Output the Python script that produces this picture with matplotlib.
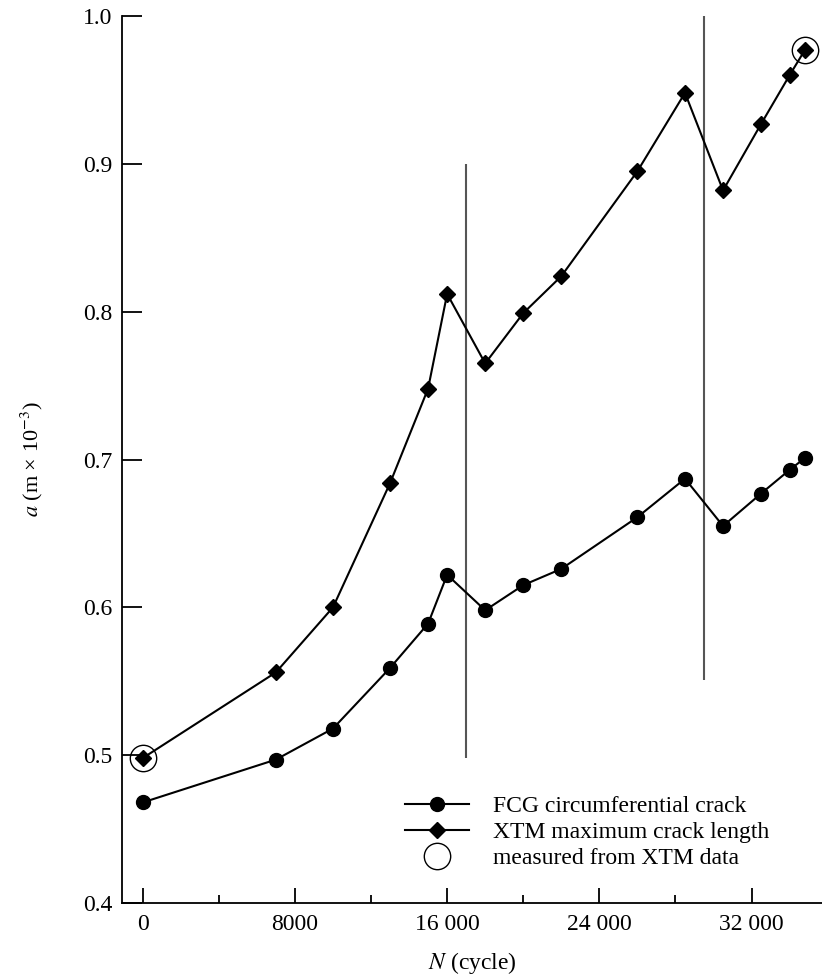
import matplotlib
matplotlib.use("Agg")
import matplotlib.pyplot as plt
from matplotlib.ticker import FixedLocator

plt.rcParams["font.family"] = ["Liberation Serif", "DejaVu Serif"]
plt.rcParams["mathtext.fontset"] = "stix"

# crack length a (m x 10^-3) against number of cycles N
cycles = [0, 7000, 10000, 13000, 15000, 16000, 18000, 20000, 22000,
          26000, 28500, 30500, 32500, 34000, 34800]
fcg_crack = [0.468, 0.497, 0.518, 0.559, 0.589, 0.622, 0.598, 0.615, 0.626,
             0.661, 0.687, 0.655, 0.677, 0.693, 0.701]
xtm_crack = [0.498, 0.556, 0.600, 0.684, 0.748, 0.812, 0.765, 0.799, 0.824,
             0.895, 0.948, 0.882, 0.927, 0.960, 0.977]

# points taken directly from the XTM data
measured_n = [0, 34800]
measured_a = [0.498, 0.977]

# vertical markers: (N, a_bottom, a_top)
markers_n = [17000, 29500]
markers_lo = [0.498, 0.551]
markers_hi = [0.900, 1.000]

xticks = [0, 8000, 16000, 24000, 32000]
xtick_labels = ["0", "8000", "16 000", "24 000", "32 000"]
xminor = [4000, 12000, 20000, 28000]
yticks = [0.4, 0.5, 0.6, 0.7, 0.8, 0.9, 1.0]

fig = plt.figure(figsize=(8.22, 9.76), dpi=100)
ax = fig.add_axes([0.1484, 0.0748, 0.8516, 0.9088])

for n, lo, hi in zip(markers_n, markers_lo, markers_hi):
    ax.vlines(n, lo, hi, color="#555555", lw=1.5, zorder=1)

ax.plot(cycles, fcg_crack, "-o", color="black", lw=1.5, ms=10,
        label="FCG circumferential crack", zorder=3)
ax.plot(cycles, xtm_crack, "-D", color="black", lw=1.5, ms=8,
        label="XTM maximum crack length", zorder=3)
ax.plot(measured_n, measured_a, "o", ls="none", mfc="none", mec="black",
        mew=1.0, ms=19, label="measured from XTM data", zorder=4)

ax.set_xlim(-1088, 35700)
ax.set_ylim(0.4, 1.0)

for side in ("top", "right"):
    ax.spines[side].set_visible(False)
for side in ("left", "bottom"):
    ax.spines[side].set_linewidth(1.3)

ax.xaxis.set_major_locator(FixedLocator(xticks))
ax.set_xticklabels(xtick_labels)
ax.xaxis.set_minor_locator(FixedLocator(xminor))
ax.set_yticks(yticks)
ax.set_yticklabels([f"{v:.1f}" for v in yticks])

ax.tick_params(axis="x", which="major", direction="in", length=11, width=1.3,
               labelsize=17, pad=8)
ax.tick_params(axis="x", which="minor", direction="in", length=6, width=1.3)
ax.tick_params(axis="y", which="major", direction="in", length=14.5,
               width=1.3, labelsize=17, pad=7)

ax.set_xlabel(r"$N$ (cycle)", fontsize=17, labelpad=11)
ax.set_ylabel(r"$a$ (m × 10$^{-3}$)", fontsize=16, labelpad=27)

ax.legend(loc="upper left", bbox_to_anchor=(0.493, 0.185),
          bbox_transform=fig.transFigure, frameon=False, fontsize=17,
          handlelength=2.7, handletextpad=1.0, labelspacing=0.2,
          borderpad=0, borderaxespad=0)

fig.savefig("out.png", dpi=100)
